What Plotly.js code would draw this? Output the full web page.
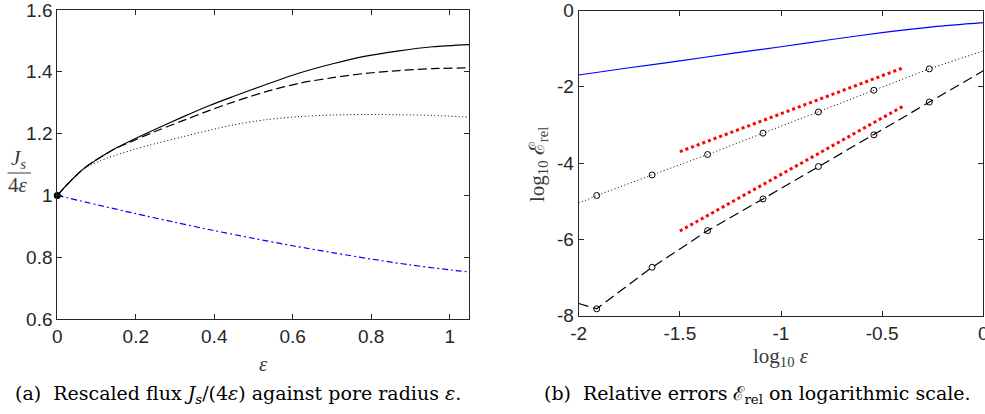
<!DOCTYPE html>
<html>
<head>
<meta charset="utf-8">
<script src="https://cdn.plot.ly/plotly-3.0.1.min.js"></script>
<style>html,body{margin:0;padding:0;background:#fff;}#chart{width:985px;height:414px;}</style>
</head>
<body>
<div id="chart"></div>
<script>
// ---------- Panel (a): rescaled flux against pore radius ----------
const epsA      = [0, 0.016, 0.032, 0.05, 0.066, 0.085, 0.108, 0.13, 0.151, 0.194, 0.236, 0.32, 0.388, 0.448, 0.532, 0.617, 0.702, 0.786, 0.871, 0.956, 1.05];
const fluxSolid = [1.0, 1.023, 1.044, 1.067, 1.085, 1.103, 1.122, 1.139, 1.154, 1.181, 1.206, 1.254, 1.291, 1.320, 1.359, 1.396, 1.426, 1.451, 1.468, 1.481, 1.488];
const fluxDash  = [1.0, 1.023, 1.044, 1.067, 1.085, 1.103, 1.122, 1.139, 1.154, 1.177, 1.200, 1.242, 1.275, 1.302, 1.336, 1.363, 1.381, 1.395, 1.404, 1.410, 1.413];
const fluxDot   = [1.0, 1.023, 1.044, 1.067, 1.085, 1.098, 1.111, 1.122, 1.131, 1.148, 1.163, 1.190, 1.211, 1.228, 1.245, 1.255, 1.260, 1.262, 1.261, 1.259, 1.253];
const epsBlue   = [0, 0.1, 0.2, 0.3, 0.4, 0.5, 0.6, 0.7, 0.8, 0.9, 1.0, 1.05];
const fluxBlue  = [1.0, 0.970, 0.941, 0.913, 0.886, 0.861, 0.837, 0.815, 0.794, 0.775, 0.759, 0.752];
const pointX    = [0];
const pointY    = [1];
const xTicksA   = [0, 0.2, 0.4, 0.6, 0.8, 1];
const xTextA    = ['0', '0.2', '0.4', '0.6', '0.8', '1'];
const yTicksA   = [0.6, 0.8, 1, 1.2, 1.4, 1.6];
const yTextA    = ['0.6', '0.8', '1', '1.2', '1.4', '1.6'];

// ---------- Panel (b): relative errors, log scale ----------
const logEpsBlue = [-2, -1.75, -1.5, -1.25, -1, -0.75, -0.5, -0.25, 0];
const errBlue    = [-1.69, -1.50, -1.32, -1.13, -0.95, -0.76, -0.58, -0.43, -0.32];
const logEpsLine = [-2, -1.911, -1.637, -1.363, -1.089, -0.815, -0.541, -0.267, 0];
const errDotLine = [-5.05, -4.85, -4.31, -3.775, -3.215, -2.66, -2.09, -1.53, -1.06];
const errDashLine= [-7.68, -7.82, -6.73, -5.77, -4.94, -4.09, -3.26, -2.40, -1.58];
const logEpsCirc = [-1.911, -1.637, -1.363, -1.089, -0.815, -0.541, -0.267];
const errDotCirc = [-4.85, -4.31, -3.775, -3.215, -2.66, -2.09, -1.53];
const errDashCirc= [-7.82, -6.73, -5.77, -4.94, -4.09, -3.26, -2.40];
const logEpsRef  = [-1.5, -0.4];
const refSlope2  = [-3.70, -1.51];
const refSlope3  = [-5.78, -2.52];
const xTicksB    = [-2, -1.5, -1, -0.5, 0];
const xTextB     = ['-2', '-1.5', '-1', '-0.5', '0'];
const yTicksB    = [-8, -6, -4, -2, 0];
const yTextB     = ['-8', '-6', '-4', '-2', '0'];

const W = 985, H = 414;
const px = v => v / W;
const py = v => 1 - v / H;

const AX = '#262626';
const tickFont = {family: 'Liberation Sans, Arial, sans-serif', size: 19, color: AX};
const serif = 'Liberation Serif, DejaVu Serif, serif';
const capSerif = 'DejaVu Serif, Liberation Serif, serif';

function axis(extra) {
  return Object.assign({
    showline: true, linecolor: AX, linewidth: 1, mirror: 'ticks',
    ticks: 'inside', ticklen: 5, tickwidth: 1, tickcolor: AX,
    showgrid: false, zeroline: false, tickfont: tickFont, fixedrange: true,
    ticklabeloverflow: 'allow'
  }, extra);
}

const traces = [
  {x: epsBlue, y: fluxBlue, xaxis: 'x', yaxis: 'y', mode: 'lines',
   line: {color: '#0000ff', width: 1.2, dash: '6px,3px,2px,3px', shape: 'spline', smoothing: 0.8}},
  {x: epsA, y: fluxDot, xaxis: 'x', yaxis: 'y', mode: 'lines',
   line: {color: '#000000', width: 1, dash: '1px,2.5px', shape: 'spline', smoothing: 0.8}},
  {x: epsA, y: fluxDash, xaxis: 'x', yaxis: 'y', mode: 'lines',
   line: {color: '#000000', width: 1.2, dash: '9px,4px', shape: 'spline', smoothing: 0.8}},
  {x: epsA, y: fluxSolid, xaxis: 'x', yaxis: 'y', mode: 'lines',
   line: {color: '#000000', width: 1.2, shape: 'spline', smoothing: 0.8}},
  {x: pointX, y: pointY, xaxis: 'x', yaxis: 'y', mode: 'markers', cliponaxis: false,
   marker: {color: '#000000', size: 7, symbol: 'circle'}},

  {x: logEpsBlue, y: errBlue, xaxis: 'x2', yaxis: 'y2', mode: 'lines',
   line: {color: '#0000ff', width: 1.2, shape: 'spline', smoothing: 0.8}},
  {x: logEpsLine, y: errDotLine, xaxis: 'x2', yaxis: 'y2', mode: 'lines',
   line: {color: '#000000', width: 1, dash: '1px,2.5px'}},
  {x: logEpsLine, y: errDashLine, xaxis: 'x2', yaxis: 'y2', mode: 'lines',
   line: {color: '#000000', width: 1.2, dash: '10px,5px'}},
  {x: logEpsRef, y: refSlope2, xaxis: 'x2', yaxis: 'y2', mode: 'lines',
   line: {color: '#ff0000', width: 3, dash: 'dot'}},
  {x: logEpsRef, y: refSlope3, xaxis: 'x2', yaxis: 'y2', mode: 'lines',
   line: {color: '#ff0000', width: 3, dash: 'dot'}},
  {x: logEpsCirc, y: errDotCirc, xaxis: 'x2', yaxis: 'y2', mode: 'markers',
   marker: {symbol: 'circle-open', size: 6, color: '#000000', line: {width: 1, color: '#000000'}}},
  {x: logEpsCirc, y: errDashCirc, xaxis: 'x2', yaxis: 'y2', mode: 'markers',
   marker: {symbol: 'circle-open', size: 6, color: '#000000', line: {width: 1, color: '#000000'}}}
];

const LABEL = '#3a3a3a';
const layout = {
  width: W, height: H,
  margin: {l: 0, r: 0, t: 0, b: 0, pad: 0},
  paper_bgcolor: '#ffffff', plot_bgcolor: '#ffffff',
  showlegend: false,
  xaxis: axis({domain: [px(57.3), px(469.3)], range: [0, 1.05], tickvals: xTicksA, ticktext: xTextA, anchor: 'y'}),
  yaxis: axis({domain: [py(319), py(10)], range: [0.6, 1.6], tickvals: yTicksA, ticktext: yTextA, anchor: 'x'}),
  xaxis2: axis({domain: [px(578.7), px(983.3)], range: [-2, 0], tickvals: xTicksB, ticktext: xTextB, anchor: 'y2'}),
  yaxis2: axis({domain: [py(315.7), py(10.5)], range: [-8, 0], tickvals: yTicksB, ticktext: yTextB, anchor: 'x2'}),
  shapes: [
    {type: 'line', xref: 'paper', yref: 'paper', x0: px(7.5), x1: px(31), y0: py(173), y1: py(173),
     line: {color: LABEL, width: 1}}
  ],
  annotations: [
    {xref: 'paper', yref: 'paper', x: px(18), y: py(159.5), xanchor: 'center', yanchor: 'middle', showarrow: false,
     text: '<i>J<sub>s</sub></i>', font: {family: serif, size: 21, color: LABEL}},
    {xref: 'paper', yref: 'paper', x: px(18), y: py(185), xanchor: 'center', yanchor: 'middle', showarrow: false,
     text: '4<i>ε</i>', font: {family: serif, size: 21, color: LABEL}},
    {xref: 'paper', yref: 'paper', x: px(263), y: py(364), xanchor: 'center', yanchor: 'middle', showarrow: false,
     text: '<i>ε</i>', font: {family: serif, size: 21, color: LABEL}},
    {xref: 'paper', yref: 'paper', x: px(781), y: py(357), xanchor: 'center', yanchor: 'middle', showarrow: false,
     text: 'log<sub>10</sub> <i>ε</i>', font: {family: serif, size: 21, color: LABEL}},
    {xref: 'paper', yref: 'paper', x: px(538), y: py(165), xanchor: 'center', yanchor: 'middle', showarrow: false, textangle: -90,
     text: 'log<sub>10</sub> ℰ<sub>rel</sub>', font: {family: serif, size: 21, color: LABEL}},
    {xref: 'paper', yref: 'paper', x: px(238), y: py(394), xanchor: 'center', yanchor: 'middle', showarrow: false,
     text: '(a)  Rescaled flux <i>J<sub>s</sub></i>/(4<i>ε</i>) against pore radius <i>ε</i>.', font: {family: capSerif, size: 19, color: '#000000'}},
    {xref: 'paper', yref: 'paper', x: px(757), y: py(394), xanchor: 'center', yanchor: 'middle', showarrow: false,
     text: '(b)  Relative errors ℰ<sub>rel</sub> on logarithmic scale.', font: {family: capSerif, size: 19, color: '#000000'}}
  ]
};

Plotly.newPlot('chart', traces, layout, {staticPlot: true, displayModeBar: false});
</script>
</body>
</html>
